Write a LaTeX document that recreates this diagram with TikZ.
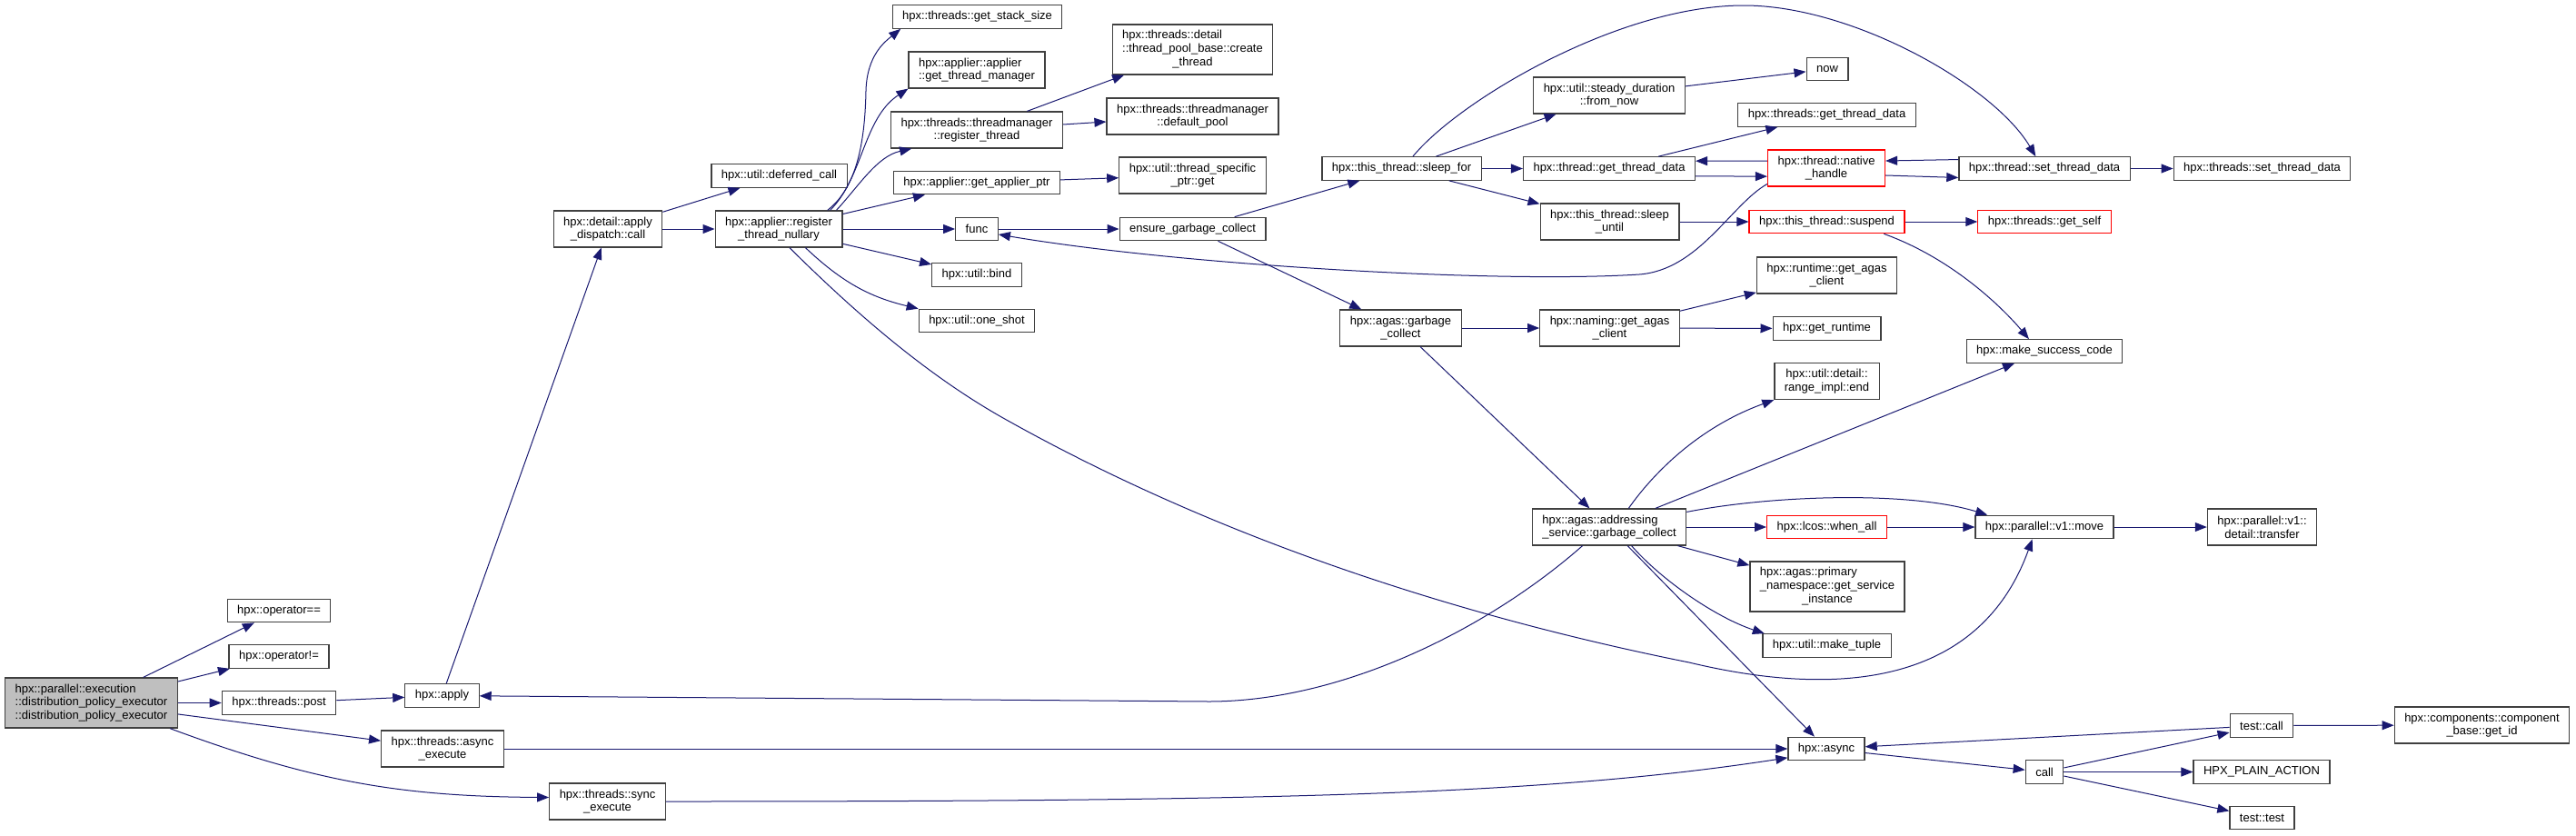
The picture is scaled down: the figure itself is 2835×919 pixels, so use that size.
\documentclass[tikz,border=0pt]{standalone}
\usepackage{fontspec}
\setmainfont{Liberation Sans}
\usetikzlibrary{arrows.meta}
\definecolor{edgeblue}{HTML}{191970}
\definecolor{boxline}{HTML}{404040}
\tikzset{
  fn/.style={draw=boxline, line width=1.2pt, fill=white, font=\fontsize{13}{14.7}\selectfont,
    inner xsep=11pt, inner ysep=3pt, minimum height=25.5pt},
  fn2/.style={fn, minimum height=40pt, align=center},
  fn3/.style={fn, minimum height=55pt, align=center},
  redfn/.style={draw=red},
  rootfn/.style={fill=black!25},
  callarrow/.style={draw=edgeblue, line width=1pt, -{Triangle[length=13pt,width=10pt]}}
}

\begin{document}
\begin{tikzpicture}[x=1pt,y=-1pt]
    \useasboundingbox (0,0) rectangle (2835,919);

    % caller side
    \node[fn3,rootfn,align=left] (main) at (100.5,773.5) {hpx::parallel::execution\\::distribution\_policy\_executor\\::distribution\_policy\_executor};
    \node[fn] (opeq) at (307,672) {hpx::operator==};
    \node[fn] (opne) at (307,722.5) {hpx::operator!=};
    \node[fn] (post) at (307,773.5) {hpx::threads::post};
    \node[fn] (apply) at (486.5,765.5) {hpx::apply};
    \node[fn2] (asyncexec) at (487,824) {hpx::threads::async\\\_execute};
    \node[fn2] (syncexec) at (668.5,882) {hpx::threads::sync\\\_execute};
    \node[fn2] (dispatch) at (669,252) {hpx::detail::apply\\\_dispatch::call};
    \node[fn] (deferred) at (857.5,193.5) {hpx::util::deferred\_call};
    \node[fn2] (nullary) at (857,252) {hpx::applier::register\\\_thread\_nullary};

    \node[fn] (stacksize) at (1075.5,18.5) {hpx::threads::get\_stack\_size};
    \node[fn2,align=left] (threadmgr) at (1075,77) {hpx::applier::applier\\::get\_thread\_manager};
    \node[fn2] (regthread) at (1075,143) {hpx::threads::threadmanager\\::register\_thread};
    \node[fn] (applierptr) at (1075,201) {hpx::applier::get\_applier\_ptr};
    \node[fn] (func) at (1075,252) {func};
    \node[fn] (bind) at (1075,302.5) {hpx::util::bind};
    \node[fn] (oneshot) at (1075,353) {hpx::util::one\_shot};

    \node[fn, minimum height=55pt] (createthread) at (1312.5,54.5) {\begin{tabular}{@{}l@{}}hpx::threads::detail\\::thread\_pool\_base::create\\\multicolumn{1}{@{}c@{}}{\_thread}\end{tabular}};
    \node[fn2] (defaultpool) at (1312.5,128) {hpx::threads::threadmanager\\::default\_pool};
    \node[fn2] (tsptr) at (1312.5,193) {hpx::util::thread\_specific\\\_ptr::get};
    \node[fn] (ensure) at (1312.5,252) {ensure\_garbage\_collect};

    \node[fn] (sleepfor) at (1542.5,185.5) {hpx::this\_thread::sleep\_for};
    \node[fn2] (aggc) at (1541.5,361) {hpx::agas::garbage\\\_collect};

    \node[fn2] (fromnow) at (1771,105) {hpx::util::steady\_duration\\::from\_now};
    \node[fn] (getthreaddata) at (1771,185.5) {hpx::thread::get\_thread\_data};
    \node[fn2] (sleepuntil) at (1771.5,244) {hpx::this\_thread::sleep\\\_until};
    \node[fn2] (nagas) at (1771.5,361) {hpx::naming::get\_agas\\\_client};
    \node[fn2,align=left] (addrgc) at (1771,580) {hpx::agas::addressing\\\_service::garbage\_collect};

    \node[fn] (now) at (2011,76) {now};
    \node[fn] (tsgetdata) at (2010.5,126.5) {hpx::threads::get\_thread\_data};
    \node[fn2,redfn] (nativehandle) at (2010,185) {hpx::thread::native\\\_handle};
    \node[fn,redfn] (suspend) at (2010.5,244) {hpx::this\_thread::suspend};
    \node[fn2] (ragas) at (2010.5,303) {hpx::runtime::get\_agas\\\_client};
    \node[fn] (getruntime) at (2010.5,361.5) {hpx::get\_runtime};
    \node[fn2] (rangeend) at (2010.5,419.5) {hpx::util::detail::\\range\_impl::end};
    \node[fn,redfn] (whenall) at (2010.5,580) {hpx::lcos::when\_all};
    \node[fn, minimum height=55pt] (primary) at (2011,645.5) {\begin{tabular}{@{}l@{}}hpx::agas::primary\\\_namespace::get\_service\\\multicolumn{1}{@{}c@{}}{\_instance}\end{tabular}};
    \node[fn] (maketuple) at (2010.5,710.5) {hpx::util::make\_tuple};
    \node[fn] (async) at (2010,824) {hpx::async};

    \node[fn] (setdata) at (2250,185.5) {hpx::thread::set\_thread\_data};
    \node[fn,redfn] (getself) at (2250,244) {hpx::threads::get\_self};
    \node[fn] (successcode) at (2250,386.5) {hpx::make\_success\_code};
    \node[fn] (move) at (2250,580) {hpx::parallel::v1::move};
    \node[fn] (call) at (2250,849.5) {call};

    \node[fn] (tssetdata) at (2489.5,185.5) {hpx::threads::set\_thread\_data};
    \node[fn2] (transfer) at (2489.5,580) {hpx::parallel::v1::\\detail::transfer};
    \node[fn] (testcall) at (2489,798.5) {test::call};
    \node[fn] (plainaction) at (2489,849.5) {HPX\_PLAIN\_ACTION};
    \node[fn] (testtest) at (2489.5,900) {test::test};
    \node[fn2] (getid) at (2731.5,798) {hpx::components::component\\\_base::get\_id};

    % calls
    \draw[callarrow] (main) -- (opeq);
    \draw[callarrow] (main) -- (opne);
    \draw[callarrow] (main) -- (post);
    \draw[callarrow] (main) -- (asyncexec);
    \draw[callarrow] (main.-18) to[bend right=10] (syncexec.176);
    \draw[callarrow] (post) -- (apply);
    \draw[callarrow] (apply) -- (dispatch);
    \draw[callarrow] (dispatch) -- (deferred);
    \draw[callarrow] (dispatch) -- (nullary);

    \draw[callarrow] (nullary.21) .. controls (945,205) and (952,150) .. (953,100) .. controls (954,60) and (975,45) .. (stacksize.189);
    \draw[callarrow] (nullary.20) .. controls (950,195) and (950,130) .. (threadmgr.south west);
    \draw[callarrow] (nullary.18) .. controls (945,205) and (965,172) .. (regthread.196);
    \draw[callarrow] (nullary) -- (applierptr);
    \draw[callarrow] (nullary) -- (func);
    \draw[callarrow] (nullary) -- (bind);
    \draw[callarrow] (nullary.-35) to[bend right=15] (oneshot.north west);
    \draw[callarrow] (nullary.-60) .. controls (941,344) and (1019,412) .. (1104,460)
        .. controls (1335,590) and (1599,677) .. (1859,729)
        .. controls (2030,770) and (2180,750) .. (move.225);

    \draw[callarrow] (regthread) -- (createthread);
    \draw[callarrow] (regthread) -- (defaultpool);
    \draw[callarrow] (applierptr) -- (tsptr);
    \draw[callarrow] (func) -- (ensure);
    \draw[callarrow] (ensure) -- (sleepfor);
    \draw[callarrow] (ensure) -- (aggc);
    \draw[callarrow] (nativehandle.195) .. controls (1905,225) and (1870,297) .. (1804,302)
        .. controls (1650,312) and (1300,292) .. (func.-14);

    \draw[callarrow] (sleepfor) -- (fromnow);
    \draw[callarrow] (sleepfor) -- (getthreaddata);
    \draw[callarrow] (sleepfor) -- (sleepuntil);
    \draw[callarrow] (sleepfor.47) .. controls (1604,112) and (1780,6) .. (1919,6)
        .. controls (2040,6) and (2195,95) .. (setdata.126);
    \draw[callarrow] (fromnow) -- (now);
    \draw[callarrow] (getthreaddata) -- (tsgetdata);
    \draw[callarrow] (getthreaddata.-5) -- (nativehandle.188);
    \draw[callarrow] (nativehandle.173) -- (getthreaddata.5);
    \draw[callarrow] (setdata.174) -- (nativehandle.7);
    \draw[callarrow] (nativehandle.-7) -- (setdata.186);
    \draw[callarrow] (setdata) -- (tssetdata);
    \draw[callarrow] (sleepuntil) -- (suspend);
    \draw[callarrow] (suspend) -- (getself);
    \draw[callarrow] (suspend.-12) .. controls (2150,285) and (2205,340) .. (successcode.142);

    \draw[callarrow] (aggc) -- (nagas);
    \draw[callarrow] (aggc) -- (addrgc);
    \draw[callarrow] (nagas) -- (ragas);
    \draw[callarrow] (nagas) -- (getruntime);

    \draw[callarrow] (addrgc.44) .. controls (1820,520) and (1870,470) .. (rangeend.south west);
    \draw[callarrow] (addrgc) -- (successcode);
    \draw[callarrow] (addrgc.11) .. controls (1950,545) and (2100,540) .. (move.168);
    \draw[callarrow] (addrgc) -- (whenall);
    \draw[callarrow] (addrgc) -- (primary);
    \draw[callarrow] (addrgc.-40) .. controls (1830,640) and (1890,680) .. (maketuple.169);
    \draw[callarrow] (addrgc) -- (async);
    \draw[callarrow] (addrgc.215) .. controls (1640,690) and (1480,772) .. (1330,772) -- (apply);
    \draw[callarrow] (whenall) -- (move);
    \draw[callarrow] (move) -- (transfer);

    \draw[callarrow] (asyncexec) -- (async);
    \draw[callarrow] (syncexec.east) .. controls (1400,882) and (1700,875) .. (async.193);
    \draw[callarrow] (testcall) -- (async);
    \draw[callarrow] (async) -- (call);
    \draw[callarrow] (call) -- (testcall);
    \draw[callarrow] (call) -- (plainaction);
    \draw[callarrow] (call) -- (testtest);
    \draw[callarrow] (testcall) -- (getid);
\end{tikzpicture}
\end{document}
